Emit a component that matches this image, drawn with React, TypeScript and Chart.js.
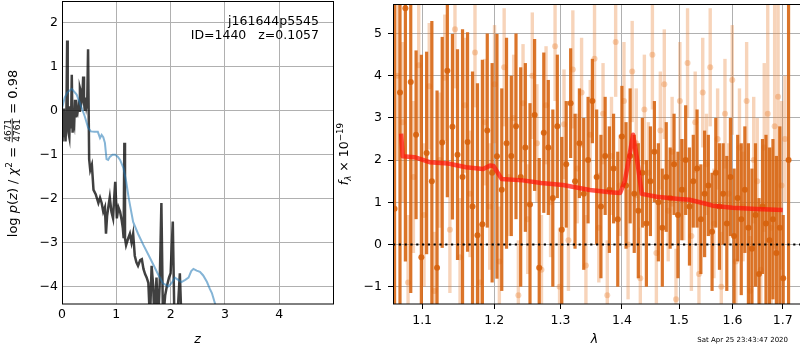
import React, { useEffect, useRef } from 'react';
import { Chart, registerables } from 'chart.js';
Chart.register(...registerables);

// ---------- tick values ----------
const Z_TICKS = [0, 1, 2, 3, 4];
const LOGP_TICKS = [-4, -3, -2, -1, 0, 1, 2];
const LAM_TICKS = [1.1, 1.2, 1.3, 1.4, 1.5, 1.6, 1.7];
const FLUX_TICKS = [-1, 0, 1, 2, 3, 4, 5];

// ---------- left panel: p(z) ----------
const zBlue = [0, 0.05, 0.1, 0.18, 0.27, 0.34, 0.42, 0.48, 0.53, 0.6, 0.66, 0.7, 0.73, 0.76, 0.79, 0.82, 0.85, 0.88, 0.93, 0.98, 1.03, 1.07, 1.13, 1.18, 1.23, 1.31, 1.4, 1.5, 1.6, 1.68, 1.78, 1.86, 1.96, 2.02, 2.08, 2.14, 2.2, 2.27, 2.33, 2.38, 2.42, 2.48, 2.54, 2.6, 2.67, 2.72, 2.76, 2.82, 2.86];
const logpBlue = [0.05, 0.3, 0.42, 0.5, 0.37, 0.14, -0.13, -0.38, -0.47, -0.48, -0.48, -0.62, -0.55, -0.6, -0.73, -1.1, -1.12, -1.05, -1.0, -1.0, -1.05, -1.12, -1.3, -1.6, -2.0, -2.53, -2.8, -3.06, -3.3, -3.5, -3.75, -3.93, -4.0, -3.92, -3.8, -3.85, -3.9, -3.85, -3.8, -3.65, -3.6, -3.64, -3.67, -3.75, -3.9, -4.05, -4.15, -4.4, -4.7];

const zDark = [0, 0.01, 0.02, 0.035, 0.05, 0.065, 0.08, 0.095, 0.105, 0.12,
  0.135, 0.15, 0.165, 0.18, 0.195, 0.21, 0.225, 0.24, 0.255, 0.27,
  0.285, 0.3, 0.315, 0.33, 0.345, 0.36, 0.375, 0.39, 0.405, 0.42,
  0.435, 0.45, 0.465, 0.48, 0.5, 0.52, 0.55, 0.58, 0.62, 0.67,
  0.7, 0.73, 0.76, 0.79, 0.81, 0.83, 0.85, 0.88, 0.91, 0.94,
  0.96, 0.98, 1.01, 1.04, 1.07, 1.1, 1.12, 1.135, 1.148, 1.16,
  1.18, 1.22, 1.25, 1.28, 1.31, 1.34, 1.37, 1.4, 1.44, 1.47,
  1.5, 1.53, 1.56, 1.59, 1.62, 1.65, 1.68, 1.7, 1.74, 1.77,
  1.8, 1.83, 1.86, 1.9, 1.93, 1.97, 2.0, 2.04, 2.07, 2.12,
  2.17, 2.2, 2.22];
const logpDark = [-0.1, -0.7, 0.05, -0.6, -0.3, -0.7, -0.2, 1.6, -0.2, -0.5,
  -0.6, 0.1, -0.4, 0.82, -0.5, -0.2, -0.3, 0.25, -0.15, 0.0,
  -0.05, 0.1, 0.0, 0.52, 0.45, 0.2, 0.3, 0.78, 0.2, 0.0,
  0.3, 0.1, 0.2, 1.4, -1.1, -1.35, -1.23, -1.8, -1.9, -2.1,
  -1.98, -2.1, -2.3, -2.2, -2.8, -2.4, -2.22, -1.97, -2.3, -2.45,
  -2.0, -1.62, -2.45, -2.2, -2.3, -2.5, -2.67, -2.9, -0.73, -2.9,
  -3.06, -2.9, -2.8, -3.0, -2.8, -3.3, -3.45, -3.53, -3.4, -3.38,
  -3.6, -3.72, -3.8, -3.92, -4.8, -3.53, -4.0, -4.8, -3.8, -4.8,
  -3.9, -2.1, -4.8, -4.2, -4.0, -3.8, -3.7, -2.52, -4.8, -4.8,
  -3.7, -4.8, -4.8];

// ---------- right panel: spectrum ----------
const lamDark = [1.064, 1.071, 1.078, 1.085, 1.092, 1.099, 1.106, 1.113, 1.120, 1.127,
  1.134, 1.141, 1.148, 1.155, 1.162, 1.169, 1.176, 1.183, 1.190, 1.197,
  1.204, 1.211, 1.218, 1.225, 1.232, 1.239, 1.246, 1.253, 1.260, 1.267,
  1.274, 1.281, 1.288, 1.295, 1.302, 1.309, 1.316, 1.323, 1.330, 1.337,
  1.344, 1.351, 1.358, 1.365, 1.372, 1.379, 1.386, 1.393, 1.400, 1.407,
  1.414, 1.421, 1.428, 1.435, 1.442, 1.449, 1.456, 1.463, 1.470, 1.477,
  1.484, 1.491, 1.498, 1.505, 1.512, 1.519, 1.526, 1.533, 1.540, 1.547,
  1.554, 1.561, 1.568, 1.575, 1.582, 1.589, 1.596, 1.603, 1.610, 1.617,
  1.624, 1.631, 1.638, 1.645, 1.652, 1.659, 1.666, 1.673, 1.680, 1.687,
  1.694, 1.701, 1.712];
const fluxDark = [0.85, 3.6, 5.6, 3.85, 2.6, -0.3, 2.17, 1.5, -0.55, 2.42,
  4.12, 2.79, 2.13, 1.6, 2.43, 0.9, 0.22, 0.48, 2.7, 1.7,
  2.09, 1.3, 2.4, 2.1, 2.8, 1.6, 2.3, 0.95, 3.07, -0.55,
  2.65, 2.3, 1.1, 2.8, 0.35, 1.9, 3.35, 1.5, 2.4, 1.2,
  2.0, 3.4, 1.6, 0.9, 2.1, 1.3, 1.8, 0.6, 2.56, 1.4,
  2.1, 1.2, 0.8, 1.7, 0.5, 1.5, 2.2, 1.0, 0.4, 1.6,
  1.1, 1.9, 0.7, 1.3, 2.0, 0.9, 1.5, 1.8, 0.6, 1.2,
  1.4, 0.3, 1.7, 0.9, 1.2, 0.5, 1.6, 0.2, 1.1, 0.6,
  1.3, 0.4, -0.1, 0.7, -0.7, 0.9, 0.5, 0.1, 0.6, -0.2,
  0.4, -0.8, 2.0];
const errDark = [6.0, 5.5, 6.0, 5.0, 2.0, 4.8, 2.4, 3.8, 4.2, 2.5,
  3.0, 2.2, 2.5, 3.5, 2.6, 3.2, 3.6, 3.9, 2.3, 2.6,
  2.9, 2.4, 2.5, 1.9, 2.2, 2.6, 2.0, 2.4, 1.8, 2.6,
  1.9, 1.6, 2.1, 1.7, 2.2, 1.5, 1.3, 1.6, 1.3, 1.8,
  1.5, 1.0, 1.6, 1.7, 1.4, 1.5, 1.3, 1.6, 1.2, 1.5,
  1.6, 1.4, 1.6, 1.3, 1.5, 1.3, 1.2, 1.4, 1.4, 1.3,
  1.2, 1.2, 1.5, 1.2, 1.3, 1.4, 1.1, 1.4, 1.3, 1.5,
  1.2, 1.4, 1.3, 1.5, 1.2, 1.6, 1.4, 1.6, 1.5, 1.8,
  1.5, 2.0, 1.9, 1.7, 1.8, 1.6, 2.1, 2.2, 1.9, 2.3,
  2.4, 1.5, 8.0];

const lamLight = [1.0675, 1.0745, 1.0815, 1.0885, 1.0955, 1.1025, 1.1095, 1.1165, 1.1235, 1.1305,
  1.1375, 1.1445, 1.1515, 1.1585, 1.1655, 1.1725, 1.1795, 1.1865, 1.1935, 1.2005,
  1.2075, 1.2145, 1.2215, 1.2285, 1.2355, 1.2425, 1.2495, 1.2565, 1.2635, 1.2705,
  1.2775, 1.2845, 1.2915, 1.2985, 1.3055, 1.3125, 1.3195, 1.3265, 1.3335, 1.3405,
  1.3475, 1.3545, 1.3615, 1.3685, 1.3755, 1.3825, 1.3895, 1.3965, 1.4035, 1.4105,
  1.4175, 1.4245, 1.4315, 1.4385, 1.4455, 1.4525, 1.4595, 1.4665, 1.4735, 1.4805,
  1.4875, 1.4945, 1.5015, 1.5085, 1.5155, 1.5225, 1.5295, 1.5365, 1.5435, 1.5505,
  1.5575, 1.5645, 1.5715, 1.5785, 1.5855, 1.5925, 1.5995, 1.6065, 1.6135, 1.6205,
  1.6275, 1.6345, 1.6415, 1.6485, 1.6555, 1.6625, 1.6695, 1.6765, 1.6835, 1.6905,
  1.6975, 1.7045];
const fluxLight = [4.0, 2.9, -0.9, 1.6, 4.25, 0.7, 3.75, -1.1, 2.0, 3.95,
  0.35, 5.1, -0.3, 3.3, 1.2, 4.55, -0.9, 2.9, 0.9, 3.8,
  -0.4, 4.2, 1.6, 3.0, -1.2, 3.35, 0.6, 4.0, 2.4, -0.6,
  3.3, 1.0, 4.7, -1.0, 2.85, 0.1, 4.15, 1.8, 3.6, -0.5,
  2.6, 4.4, 0.4, 3.1, -1.2, 2.1, 4.8, 1.4, 3.4, 0.0,
  4.1, 2.4, -0.8, 3.2, 1.7, 4.5, -0.2, 2.7, 3.8, 0.8,
  2.2, -1.3, 3.4, 1.3, 4.3, 0.2, 2.9, -0.7, 3.6, 1.9,
  4.2, 0.5, 2.5, -1.0, 3.1, 1.2, 3.9, -0.4, 2.3, 0.9,
  3.4, -1.1, 2.0, 1.5, -0.6, 2.3, 3.1, 0.4, 2.8, 3.5,
  1.4, 2.5];
const errLight = [2.0, 1.9, 1.6, 1.8, 1.6, 1.7, 1.5, 1.4, 1.6, 1.5,
  1.5, 1.4, 1.4, 1.6, 1.5, 1.3, 1.4, 1.5, 1.5, 1.4,
  1.3, 1.4, 1.4, 1.5, 1.3, 1.4, 1.3, 1.5, 1.4, 1.3,
  1.4, 1.3, 1.3, 1.4, 1.3, 1.2, 1.4, 1.3, 1.3, 1.2,
  1.3, 1.4, 1.3, 1.2, 1.3, 1.4, 1.3, 1.2, 1.4, 1.3,
  1.2, 1.3, 1.2, 1.3, 1.2, 1.3, 1.2, 1.4, 1.3, 1.2,
  1.3, 1.2, 1.4, 1.2, 1.3, 1.3, 1.2, 1.3, 1.3, 1.2,
  1.4, 1.3, 1.2, 1.3, 1.3, 1.2, 1.3, 1.3, 1.4, 1.3,
  1.4, 1.3, 1.5, 1.5, 1.4, 2.0, 2.6, 1.9, 2.9, 2.6,
  2.0, 1.5];

const lamModel = [1.0725, 1.0745, 1.09, 1.11, 1.135, 1.16, 1.184, 1.194, 1.199, 1.211, 1.242, 1.27, 1.304, 1.347, 1.38, 1.397, 1.405, 1.419, 1.425, 1.434, 1.46, 1.5, 1.519, 1.551, 1.562, 1.6, 1.647, 1.70];
const fluxModel = [2.63, 2.09, 2.07, 1.95, 1.92, 1.83, 1.79, 1.87, 1.86, 1.55, 1.52, 1.46, 1.41, 1.29, 1.24, 1.22, 1.5, 2.6, 2.1, 1.2, 1.13, 1.08, 1.06, 0.96, 0.92, 0.87, 0.84, 0.82];

const lamZero = [1.062, 1.74];
const fluxZero = [0, 0];

// ---------- helpers ----------
const FAM = '"DejaVu Sans"';
const FS = 12.5;
const fnt = (s: number, it?: boolean) => `${it ? 'italic ' : ''}${s}px ${FAM}`;
const minusFmt = (v: any) => { const n = Number(v); return n < 0 ? '\u2212' + Math.abs(n) : String(n); };

type Piece = { t: string; s: number; it?: boolean; dy?: number } | { num: string; den: string; s: number };

function pieceW(ctx: CanvasRenderingContext2D, p: Piece) {
  if ('num' in p) {
    ctx.font = fnt(p.s);
    return Math.max(ctx.measureText(p.num).width, ctx.measureText(p.den).width) + 2;
  }
  ctx.font = fnt(p.s, p.it);
  return ctx.measureText(p.t).width;
}

function drawRichVertical(ctx: CanvasRenderingContext2D, x: number, y: number, pieces: Piece[]) {
  ctx.save();
  ctx.translate(x, y);
  ctx.rotate(-Math.PI / 2);
  ctx.fillStyle = '#000';
  ctx.textBaseline = 'alphabetic';
  const total = pieces.reduce((a, p) => a + pieceW(ctx, p), 0);
  let cx = -total / 2;
  for (const p of pieces) {
    const w = pieceW(ctx, p);
    if ('num' in p) {
      ctx.font = fnt(p.s);
      ctx.textAlign = 'center';
      const axis = -4.3;
      ctx.fillText(p.num, cx + w / 2, axis - 1.4);
      ctx.fillText(p.den, cx + w / 2, axis + 1.4 + p.s * 0.73);
      ctx.fillRect(cx + 0.5, axis - 0.4, w - 1, 0.8);
      ctx.textAlign = 'left';
    } else {
      ctx.font = fnt(p.s, p.it);
      ctx.textAlign = 'left';
      ctx.fillText(p.t, cx, p.dy || 0);
    }
    cx += w;
  }
  ctx.restore();
}

const framePlugin = {
  id: 'frame',
  afterDraw(chart: any) {
    const { ctx, chartArea: a } = chart;
    ctx.save();
    ctx.strokeStyle = '#000';
    ctx.lineWidth = 1;
    ctx.strokeRect(a.left + 0.5, a.top + 0.5, a.right - a.left, a.bottom - a.top - 0.5);
    ctx.restore();
  },
};

const ERRS: Record<string, { err: number[]; color: string; width: number }> = {
  dark: { err: errDark, color: 'rgba(214,98,12,0.88)', width: 3.2 },
  light: { err: errLight, color: 'rgba(232,125,45,0.33)', width: 3.4 },
};

const errorBarPlugin = {
  id: 'errbars',
  beforeDatasetDraw(chart: any, args: any) {
    const ds = chart.data.datasets[args.index];
    const spec = ERRS[ds.label];
    if (!spec) return;
    const { ctx, chartArea: a } = chart;
    const xs = chart.scales.x, ys = chart.scales.y;
    ctx.save();
    ctx.beginPath();
    ctx.rect(a.left, a.top, a.right - a.left, a.bottom - a.top);
    ctx.clip();
    ctx.strokeStyle = spec.color;
    ctx.lineWidth = spec.width;
    ctx.lineCap = 'butt';
    ds.data.forEach((pt: any, i: number) => {
      const px = xs.getPixelForValue(pt.x);
      const y1 = ys.getPixelForValue(pt.y - spec.err[i]);
      const y2 = ys.getPixelForValue(pt.y + spec.err[i]);
      ctx.beginPath();
      ctx.moveTo(px, y1);
      ctx.lineTo(px, y2);
      ctx.stroke();
    });
    ctx.restore();
  },
};

const leftTextPlugin = {
  id: 'leftText',
  afterDraw(chart: any) {
    const { ctx, chartArea: a } = chart;
    ctx.save();
    ctx.fillStyle = '#000';
    ctx.font = fnt(FS);
    ctx.textAlign = 'right';
    ctx.textBaseline = 'alphabetic';
    ctx.fillText('j161644p5545', 319, 24.5);
    ctx.fillText('ID=1440   z=0.1057', 319, 39);
    ctx.font = fnt(FS, true);
    ctx.textAlign = 'center';
    ctx.fillText('z', (a.left + a.right) / 2, 343);
    ctx.restore();
    drawRichVertical(ctx, 16.5, (a.top + a.bottom) / 2 + 1, [
      { t: 'log ', s: 13 },
      { t: 'p', s: 13, it: true },
      { t: '(', s: 13 },
      { t: 'z', s: 13, it: true },
      { t: ') / ', s: 13 },
      { t: '\u03c7', s: 13, it: true },
      { t: '2', s: 9, dy: -5 },
      { t: ' = ', s: 13 },
      { num: '4671', den: '4761', s: 9 },
      { t: ' = 0.98', s: 13 },
    ]);
  },
};

const rightTextPlugin = {
  id: 'rightText',
  afterDraw(chart: any) {
    const { ctx, chartArea: a } = chart;
    ctx.save();
    ctx.fillStyle = '#000';
    ctx.font = fnt(FS, true);
    ctx.textAlign = 'center';
    ctx.textBaseline = 'alphabetic';
    ctx.fillText('\u03bb', (a.left + a.right) / 2 - 3, 343);
    ctx.font = fnt(7);
    ctx.textAlign = 'right';
    ctx.fillText('Sat Apr 25 23:43:47 2020', 463, 341.5);
    ctx.restore();
    // canvas starts at page x=325
    drawRichVertical(ctx, 348 - 325, (a.top + a.bottom) / 2, [
      { t: 'f', s: FS, it: true },
      { t: '\u03bb', s: 8.75, it: true, dy: 3 },
      { t: ' \u00d7 10', s: FS },
      { t: '\u221219', s: 8.75, dy: -5 },
    ]);
  },
};

const tickFont = { family: 'DejaVu Sans', size: FS };

const fitY = (w: number) => (s: any) => { s.width = w; s.paddingTop = 0; s.paddingBottom = 0; };
const fitX = (h: number) => (s: any) => { s.height = h; s.paddingLeft = 0; s.paddingRight = 0; };

function leftConfig(): any {
  return {
    type: 'scatter',
    data: {
      datasets: [
        {
          label: 'blue', data: zBlue.map((z, i) => ({ x: z, y: logpBlue[i] })), showLine: true,
          borderColor: 'rgba(31,119,180,0.55)', borderWidth: 2, pointRadius: 0, clip: 0, order: 0,
        },
        {
          label: 'dark', data: zDark.map((z, i) => ({ x: z, y: logpDark[i] })), showLine: true,
          borderColor: 'rgba(0,0,0,0.75)', borderWidth: 2.5, pointRadius: 0, clip: 0, order: 1,
        },
      ],
    },
    options: {
      responsive: false, animation: false, events: [],
      layout: { padding: { left: 0, right: 7, top: 1, bottom: 0 } },
      plugins: { legend: { display: false }, tooltip: { enabled: false } },
      scales: {
        x: {
          type: 'linear', min: 0, max: 4.99, bounds: 'data',
          afterBuildTicks: (s: any) => { s.ticks = Z_TICKS.map((v) => ({ value: v })); },
          afterFit: fitX(46),
          ticks: { padding: 3, autoSkip: false, maxRotation: 0, color: '#000', font: tickFont, callback: minusFmt },
          grid: { color: '#b0b0b0', lineWidth: 1, drawTicks: false },
          border: { display: false },
        },
        y: {
          type: 'linear', min: -4.4, max: 2.5, bounds: 'data',
          afterBuildTicks: (s: any) => { s.ticks = LOGP_TICKS.map((v) => ({ value: v })); },
          afterFit: fitY(62),
          ticks: { padding: 4, autoSkip: false, color: '#000', font: tickFont, callback: minusFmt },
          grid: { color: '#b0b0b0', lineWidth: 1, drawTicks: false },
          border: { display: false },
        },
      },
    },
    plugins: [framePlugin, leftTextPlugin],
  };
}

function rightConfig(): any {
  return {
    type: 'scatter',
    data: {
      datasets: [
        {
          label: 'zero', data: lamZero.map((l, i) => ({ x: l, y: fluxZero[i] })), showLine: true,
          borderColor: '#000', borderWidth: 2.2, borderDash: [2.2, 3.6], pointRadius: 0, clip: 0, order: 0,
        },
        {
          label: 'model', data: lamModel.map((l, i) => ({ x: l, y: fluxModel[i] })), showLine: true,
          borderColor: 'rgba(255,20,10,0.72)', borderWidth: 4.5, pointRadius: 0, clip: 0, order: 1,
          borderJoinStyle: 'round',
        },
        {
          label: 'dark', data: lamDark.map((l, i) => ({ x: l, y: fluxDark[i] })), showLine: false,
          pointRadius: 3, pointBackgroundColor: 'rgba(214,98,12,0.9)', pointBorderWidth: 0, clip: 0, order: 2,
        },
        {
          label: 'light', data: lamLight.map((l, i) => ({ x: l, y: fluxLight[i] })), showLine: false,
          pointRadius: 3, pointBackgroundColor: 'rgba(232,125,45,0.35)', pointBorderWidth: 0, clip: 0, order: 3,
        },
      ],
    },
    options: {
      responsive: false, animation: false, events: [],
      layout: { padding: { left: 0, right: 8, top: 1, bottom: 0 } },
      plugins: { legend: { display: false }, tooltip: { enabled: false } },
      scales: {
        x: {
          type: 'logarithmic', min: 1.062, max: 1.74, bounds: 'data',
          afterBuildTicks: (s: any) => { s.ticks = LAM_TICKS.map((v) => ({ value: v })); },
          afterFit: fitX(46),
          ticks: { padding: 4, autoSkip: false, maxRotation: 0, color: '#000', font: tickFont, callback: (v: any) => Number(v).toFixed(1) },
          grid: { color: '#b0b0b0', lineWidth: 1, drawTicks: true, tickLength: 5, tickColor: '#000', tickWidth: 1 },
          border: { display: false },
        },
        y: {
          type: 'linear', min: -1.41, max: 5.7, bounds: 'data',
          afterBuildTicks: (s: any) => { s.ticks = FLUX_TICKS.map((v) => ({ value: v })); },
          afterFit: fitY(68),
          ticks: { padding: 6, autoSkip: false, color: '#000', font: tickFont, callback: minusFmt },
          grid: { color: '#b0b0b0', lineWidth: 1, drawTicks: true, tickLength: 5, tickColor: '#000', tickWidth: 1 },
          border: { display: false },
        },
      },
    },
    plugins: [errorBarPlugin, framePlugin, rightTextPlugin],
  };
}

export default function App() {
  const leftRef = useRef<HTMLCanvasElement>(null);
  const rightRef = useRef<HTMLCanvasElement>(null);
  useEffect(() => {
    Chart.defaults.font.family = 'DejaVu Sans';
    Chart.defaults.font.size = FS;
    Chart.defaults.color = '#000';
    const c1 = new Chart(leftRef.current as HTMLCanvasElement, leftConfig());
    const c2 = new Chart(rightRef.current as HTMLCanvasElement, rightConfig());
    return () => { c1.destroy(); c2.destroy(); };
  }, []);
  return (
    <div style={{ position: 'fixed', left: 0, top: 0, width: 800, height: 350, overflow: 'hidden', background: '#fff' }}>
      <canvas ref={leftRef} width={340} height={350} style={{ position: 'absolute', left: 0, top: 0, width: 340, height: 350 }} />
      <canvas ref={rightRef} width={485} height={350} style={{ position: 'absolute', left: 325, top: 0, width: 485, height: 350 }} />
    </div>
  );
}
